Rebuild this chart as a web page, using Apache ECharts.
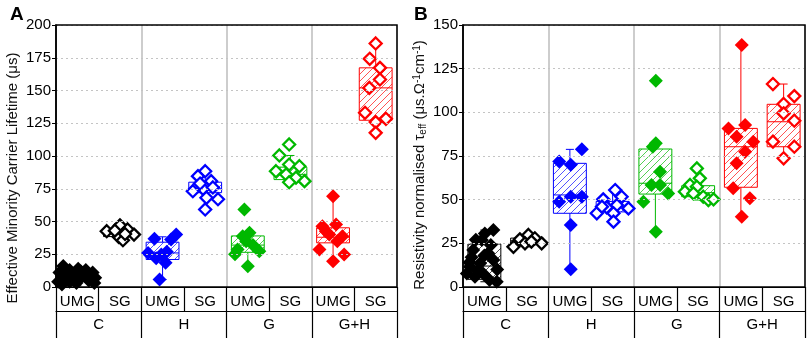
<!DOCTYPE html>
<html><head><meta charset="utf-8">
<script src="https://cdn.jsdelivr.net/npm/echarts@6/dist/echarts.min.js"></script>
<style>html,body{margin:0;padding:0;background:#fff}#c{width:809px;height:338px}</style>
</head><body><div id="c"></div>
<script>
const subCats = ['UMG','SG','UMG','SG','UMG','SG','UMG','SG'];
const groups = ['C','H','G','G+H'];
const groupColors = ['#000000','#0000ff','#00b800','#ff0000'];
const yAxisA = {min:0, max:200, interval:25};
const yAxisB = {min:0, max:150, interval:25};

// Box statistics per sub-category: [min, q1, median, q3, max]
const boxA = [
  [1, 4, 8, 11, 15],
  [35.7, 38.5, 41.5, 43.5, 47],
  [5.7, 21, 26, 34.2, 38.3],
  [59.2, 72, 75, 80, 88.4],
  [15.9, 26.5, 32, 39, 41.4],
  [80, 82, 86, 91.5, 100.4],
  [19.7, 33.7, 38, 45.2, 69.3],
  [117.7, 127.3, 152, 167.3, 185.9]
];
const boxB = [
  [3, 4.4, 12, 24.6, 32.6],
  [23, 25, 26.5, 28, 29.8],
  [10.1, 42.2, 52.7, 70.8, 78.8],
  [37.4, 43, 46, 49, 55.5],
  [31.7, 53.2, 59.4, 79, 82.3],
  [49.8, 51.7, 54, 58, 67.9],
  [40.2, 57.1, 80.3, 90.8, 138.5],
  [73.7, 80.3, 94.6, 104.6, 116.2]
];

// Points: [jitter offset within sub-category, value]
const aC_UMG = [[-0.33,16],[-0.42,11],[-0.18,13],[0.02,14],[0.2,13],[0.36,11],[0.42,7],[-0.45,4],[-0.27,7],[-0.08,10],[0.1,8],[0.27,5],[0.4,3],[-0.36,2],[-0.02,3],[0.15,10],[-0.18,4],[0.3,8],[0.08,12],[-0.1,6]];
const aC_SG = [[-0.31,42.6],[0,47],[0.18,43.9],[0.33,40],[-0.03,38.3],[0.07,35.7],[-0.12,43],[0.12,40.5]];
const aH_UMG = [[-0.19,36.8],[0.32,40],[0.2,36.3],[-0.34,26],[-0.03,24.8],[0.07,18.5],[-0.07,5.7],[0.1,27],[-0.15,22]];
const aH_SG = [[0,88.4],[-0.17,84.6],[0.14,80.8],[-0.29,73.1],[-0.05,75],[0.18,76],[0.03,68.1],[0.3,67],[0,59.2],[-0.12,79]];
const aG_UMG = [[-0.08,59.2],[0.04,41.4],[-0.12,38.8],[-0.24,28.6],[0.27,27.3],[0,15.9],[-0.04,35],[0.12,32],[-0.3,25]];
const aG_SG = [[-0.03,108.8],[-0.26,100.4],[-0.03,93.5],[0.21,92.2],[-0.34,88.4],[-0.1,85.9],[0.13,83.4],[0.33,80.8],[-0.03,80]];
const aGH_UMG = [[0,69.3],[-0.25,46.4],[0.07,47.7],[-0.09,40],[0.22,38.8],[-0.32,28.6],[0.26,24.8],[0,19.7],[-0.17,42.6],[0.1,35]];
const aGH_SG = [[0,185.9],[-0.14,174.2],[0.1,167.3],[0.1,158.4],[-0.15,152],[-0.25,133],[0,125.9],[0.24,128.4],[0,117.7]];

const bC_UMG = [[0.21,32.6],[0.01,30.7],[-0.26,21.2],[0.09,19.3],[-0.34,11.6],[-0.1,13.6],[0.21,15.5],[-0.22,5.9],[0.29,3],[-0.03,7.8],[-0.41,7.8],[-0.06,26.9],[-0.2,27],[0.15,24],[-0.3,17],[0,18],[-0.15,9],[0.3,10],[-0.35,14],[0.12,4]];
const bC_SG = [[-0.32,23],[-0.17,27.3],[0.03,29.8],[0.18,27.9],[0.34,25],[-0.05,25],[0.1,26]];
const bH_UMG = [[-0.25,71.9],[0.02,70],[0.28,78.8],[-0.25,48.8],[0.02,51.7],[0.28,51.7],[0.02,35.5],[0.02,10.1]];
const bH_SG = [[0.06,55.5],[-0.22,50.2],[0.21,51.7],[-0.37,42.2],[-0.14,45.6],[0.1,46.9],[0.37,45],[0.02,42.2],[0.02,37.4],[-0.25,46]];
const bG_UMG = [[0.01,118.1],[-0.06,80.3],[0.01,82.3],[0.11,66],[-0.09,58.4],[0.11,58.4],[0.3,53.6],[-0.28,48.8],[0.01,31.7]];
const bG_SG = [[-0.03,67.9],[0.04,62.2],[-0.19,58.4],[-0.31,54.6],[-0.03,57.4],[-0.11,53.6],[0.12,51.7],[0.24,49.8],[0.36,50.2]];
const bGH_UMG = [[0.02,138.5],[-0.29,90.8],[0.1,92.7],[-0.1,86],[0.29,83.2],[0.1,77.4],[-0.1,70.8],[-0.18,56.5],[0.21,50.8],[0.02,40.2]];
const bGH_SG = [[-0.25,116.2],[0.25,109.3],[0,104.8],[0,99.4],[0.25,95.2],[-0.25,83.2],[0.25,80.3],[0,73.7]];

const pointsA = [aC_UMG, aC_SG, aH_UMG, aH_SG, aG_UMG, aG_SG, aGH_UMG, aGH_SG];
const pointsB = [bC_UMG, bC_SG, bH_UMG, bH_SG, bG_UMG, bG_SG, bGH_UMG, bGH_SG];

const FONT = 'Liberation Sans, Arial, sans-serif';

function hatch(col) {
  const c = document.createElement('canvas');
  c.width = 7; c.height = 7;
  const g = c.getContext('2d');
  g.strokeStyle = col; g.globalAlpha = 0.75; g.lineWidth = 0.9;
  g.beginPath();
  g.moveTo(-1, 8); g.lineTo(8, -1);
  g.moveTo(-2, 2); g.lineTo(2, -2);
  g.moveTo(5, 9); g.lineTo(9, 5);
  g.stroke();
  return c;
}
const patterns = groupColors.map(c => ({image: hatch(c), repeat: 'repeat'}));

function boxSeries(gi, boxes) {
  return {
    type: 'custom', xAxisIndex: gi * 3, yAxisIndex: gi, z: 2, silent: true,
    data: boxes.map((b, i) => [i].concat(b)),
    encode: {x: 0, y: [1, 2, 3, 4, 5]},
    renderItem: function (params, api) {
      const i = api.value(0);
      const k = Math.floor(i / 2);
      const col = groupColors[k];
      const w = api.size([0.77, 0])[0];
      const hw = w / 2;
      const pMin = api.coord([i, api.value(1)]);
      const pQ1 = api.coord([i, api.value(2)]);
      const pMed = api.coord([i, api.value(3)]);
      const pQ3 = api.coord([i, api.value(4)]);
      const pMax = api.coord([i, api.value(5)]);
      const cx = pMed[0];
      const ls = {stroke: col, lineWidth: 1};
      const cap = 4;
      return {type: 'group', children: [
        {type: 'rect', shape: {x: cx - hw, y: pQ3[1], width: w, height: pQ1[1] - pQ3[1]}, style: {fill: patterns[k], stroke: col, lineWidth: 1}},
        {type: 'line', shape: {x1: cx - hw, y1: pMed[1], x2: cx + hw, y2: pMed[1]}, style: ls},
        {type: 'line', shape: {x1: cx, y1: pQ3[1], x2: cx, y2: pMax[1]}, style: ls},
        {type: 'line', shape: {x1: cx, y1: pQ1[1], x2: cx, y2: pMin[1]}, style: ls},
        {type: 'line', shape: {x1: cx - cap, y1: pMax[1], x2: cx + cap, y2: pMax[1]}, style: ls},
        {type: 'line', shape: {x1: cx - cap, y1: pMin[1], x2: cx + cap, y2: pMin[1]}, style: ls}
      ]};
    }
  };
}

function pointSeries(gi, idx, arr) {
  const col = groupColors[Math.floor(idx / 2)];
  const filled = idx % 2 === 0;
  return {
    type: 'scatter', xAxisIndex: gi * 3, yAxisIndex: gi, z: 3, silent: true,
    symbol: 'diamond', symbolSize: filled ? 14 : 12,
    data: arr.map(p => [idx + p[0], p[1]]),
    itemStyle: filled ? {color: col, opacity: 1} : {color: '#ffffff', borderColor: col, borderWidth: 2.3, opacity: 1}
  };
}

function xAxes(gi) {
  const line = {show: true, onZero: false, lineStyle: {color: '#000', width: 1.2}};
  return [
    {type: 'value', gridIndex: gi, min: -0.5, max: 7.5, show: false},
    {type: 'category', gridIndex: gi, data: subCats, position: 'bottom', boundaryGap: true, z: 5,
      axisLine: line, axisTick: {show: true, interval: 0, length: 24, lineStyle: {color: '#000', width: 1.2}},
      axisLabel: {interval: 0, fontSize: 15, color: '#000', margin: 7, fontFamily: FONT}, splitLine: {show: false}},
    {type: 'category', gridIndex: gi, data: groups, position: 'bottom', offset: 24, boundaryGap: true, z: 1,
      axisLine: line, axisTick: {show: true, interval: 0, length: 40, lineStyle: {color: '#000', width: 1.2}},
      axisLabel: {interval: 0, fontSize: 15, color: '#000', margin: 6, fontFamily: FONT},
      splitLine: {show: true, interval: 0, lineStyle: {color: '#bdbdbd', width: 1.5}}}
  ];
}

function yAxis(gi, cfg) {
  return {type: 'value', gridIndex: gi, min: cfg.min, max: cfg.max, interval: cfg.interval, z: 5,
    axisLine: {show: true, onZero: false, lineStyle: {color: '#000', width: 1.5}},
    axisTick: {show: true, length: 4, lineStyle: {color: '#000'}},
    axisLabel: {fontSize: 15, color: '#000', margin: 5, fontFamily: FONT},
    splitLine: {show: true, lineStyle: {color: '#c4c4c4', width: 1, type: [2, 3]}}};
}

const series = [boxSeries(0, boxA), boxSeries(1, boxB)];
pointsA.forEach((arr, i) => series.push(pointSeries(0, i, arr)));
pointsB.forEach((arr, i) => series.push(pointSeries(1, i, arr)));

const chart = echarts.init(document.getElementById('c'), null, {renderer: 'canvas'});
chart.setOption({
  animation: false,
  backgroundColor: '#fff',
  textStyle: {fontFamily: FONT},
  title: [
    {text: 'A', left: 5, top: 0, textStyle: {fontSize: 19, fontWeight: 'bold', color: '#000', fontFamily: FONT}},
    {text: 'B', left: 409, top: 0, textStyle: {fontSize: 19, fontWeight: 'bold', color: '#000', fontFamily: FONT}}
  ],
  grid: [
    {left: 56, top: 25, width: 341, height: 262, show: true, borderColor: '#000', borderWidth: 1.5, backgroundColor: 'transparent', z: 10},
    {left: 463, top: 25, width: 342, height: 262, show: true, borderColor: '#000', borderWidth: 1.5, backgroundColor: 'transparent', z: 10}
  ],
  xAxis: xAxes(0).concat(xAxes(1)),
  yAxis: [yAxis(0, yAxisA), yAxis(1, yAxisB)],
  graphic: [
    {type: 'text', x: 13, y: 178, rotation: Math.PI / 2, silent: true,
      style: {text: 'Effective Minority Carrier Lifetime (\u03bcs)', fontSize: 15, fontFamily: FONT, fill: '#111',
        textAlign: 'center', textVerticalAlign: 'middle', align: 'center', verticalAlign: 'middle'}},
    {type: 'text', x: 420, y: 165, rotation: Math.PI / 2, silent: true,
      style: {text: 'Resistivity normalised \u03c4{sub|eff} (\u03bcs.\u03a9{sup|-1}cm{sup|-1})', fontSize: 15, fontFamily: FONT, fill: '#111',
        textAlign: 'center', textVerticalAlign: 'middle', align: 'center', verticalAlign: 'middle',
        rich: {
          sub: {fontSize: 10, fontFamily: FONT, fill: '#111', verticalAlign: 'bottom', padding: [6, 0, 0, 0]},
          sup: {fontSize: 10, fontFamily: FONT, fill: '#111', verticalAlign: 'top', padding: [0, 0, 6, 0]}
        }}}
  ],
  series: series
});
</script>
</body></html>
